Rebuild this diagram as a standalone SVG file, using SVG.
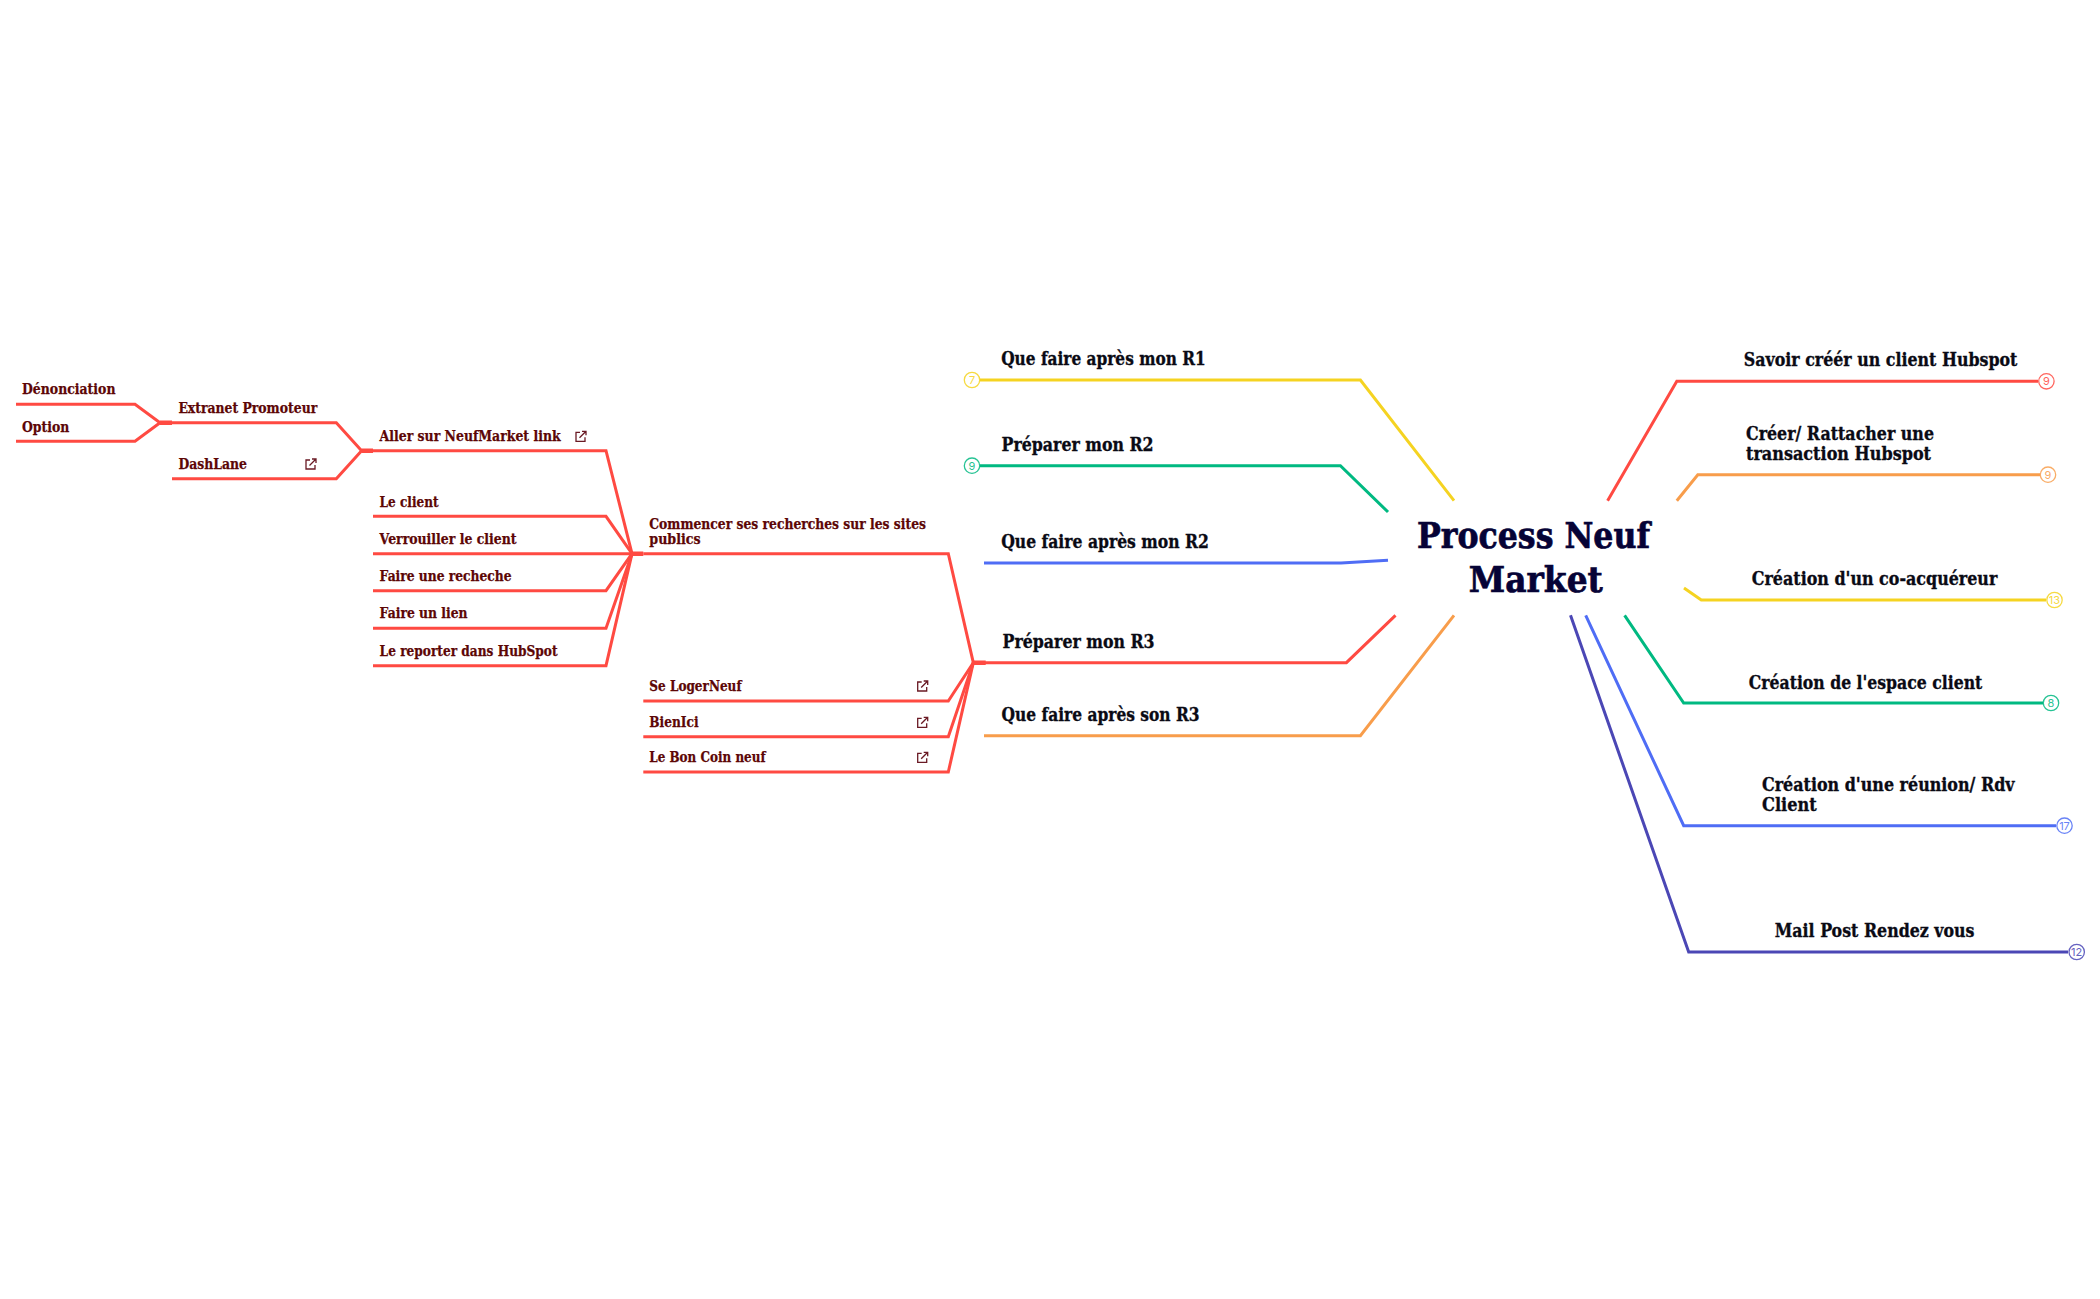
<svg xmlns="http://www.w3.org/2000/svg" width="2100" height="1299" viewBox="0 0 2100 1299">
<style>
text{font-family:"DejaVu Serif","Liberation Serif",serif;font-weight:700}
.root{font-size:35.5px;fill:#060336;stroke:#060336;stroke-width:.7}
.l1{font-size:18.5px;fill:#0a0a14;stroke:#0a0a14;stroke-width:.35}
.l2{font-size:14.2px;fill:#5c0606;stroke:#5c0606;stroke-width:.25}
.c{font-family:"Inter","Liberation Sans",sans-serif;font-weight:400;font-size:11px;text-anchor:middle;opacity:.85}
.ln{fill:none;stroke-width:3;stroke-linejoin:miter}
.st{stroke-width:4.4}
.red{stroke:#ff4a42}.yel{stroke:#f5d321}.grn{stroke:#00b981}.blu{stroke:#4f6df5}.org{stroke:#f89d4b}.ind{stroke:#4b47b5}
.b{fill:#fff;stroke-width:1.3;stroke-opacity:.85}
.ic{fill:none;stroke:#6a1a24;stroke-width:1.3}
</style>
<defs>
<g id="ext"><path class="ic" d="M-1,-4H-5V5H4V1"/><path class="ic" d="M-1.5,1.5L4.5,-4.5M1,-5H5V-1"/></g>
</defs>
<g id="connectors">
<path class="ln yel" d="M980,380H1360.4L1454,500.7"/>
<path class="ln grn" d="M980,465.7H1340.4L1388,512"/>
<path class="ln blu" d="M984,563H1341L1388,560.3"/>
<path class="ln red" d="M973.3,662.7H1346.4L1395.5,615.3"/>
<path class="ln org" d="M984,735.7H1360.4L1454,615.3"/>
<path class="ln red" d="M2038,381.3H1676.8L1607.6,500.7"/>
<path class="ln org" d="M2040,474.7H1697.8L1676.8,500.7"/>
<path class="ln yel" d="M2046,600H1701.3L1684,588"/>
<path class="ln grn" d="M2043,703H1683.7L1624.6,615.3"/>
<path class="ln blu" d="M2056,825.7H1683.7L1585.7,615.3"/>
<path class="ln ind" d="M2068,952H1688.7L1570.5,615.3"/>
<g id="sub-connectors">
<path class="ln red" d="M643.3,553.7H948.3L973.3,662.7"/>
<path class="ln red" d="M643.3,701H948.3L973.3,662.7"/>
<path class="ln red" d="M643.3,736.7H948.3L973.3,662.7"/>
<path class="ln red" d="M643.3,772H948.3L973.3,662.7"/>
<path class="ln red" d="M373,450.7H606L632,553.7"/>
<path class="ln red" d="M373,516.3H606L632,553.7"/>
<path class="ln red" d="M373,553.7H632"/>
<path class="ln red" d="M373,590.7H606L632,553.7"/>
<path class="ln red" d="M373,628.3H606L632,553.7"/>
<path class="ln red" d="M373,665.7H606L632,553.7"/>
<path class="ln red" d="M172,422.7H336.3L361.6,450.7H373"/>
<path class="ln red" d="M172,478.7H336.3L361.6,450.7"/>
<path class="ln red" d="M16,404.3H135L160,422.7H172"/>
<path class="ln red" d="M16,441.3H135L160,422.7"/>
<path class="ln red st" d="M632,553.7H643.3M973.3,662.7H985.7M361.6,450.7H373M160,422.7H172"/>
</g>
</g>
<g id="root"><text class="root" x="1417" y="548.3" textLength="233" lengthAdjust="spacingAndGlyphs">Process Neuf</text><text class="root" x="1468.8" y="591.7" textLength="134" lengthAdjust="spacingAndGlyphs">Market</text></g>
<g id="n-r1"><text class="l1" x="1001.2" y="365" textLength="204.5" lengthAdjust="spacingAndGlyphs">Que faire après mon R1</text><circle class="b yel" cx="972" cy="380" r="7.7"/><text class="c" x="972" y="384" fill="#f5d321">7</text></g>
<g id="n-r2"><text class="l1" x="1001.6" y="451" textLength="152" lengthAdjust="spacingAndGlyphs">Préparer mon R2</text><circle class="b grn" cx="972" cy="465.7" r="7.7"/><text class="c" x="972" y="469.6" fill="#00b981">9</text></g>
<g id="n-apr2"><text class="l1" x="1001.2" y="548" textLength="207.7" lengthAdjust="spacingAndGlyphs">Que faire après mon R2</text></g>
<g id="n-r3"><text class="l1" x="1002.6" y="647.7" textLength="152" lengthAdjust="spacingAndGlyphs">Préparer mon R3</text></g>
<g id="n-apr3"><text class="l1" x="1001.6" y="720.7" textLength="198" lengthAdjust="spacingAndGlyphs">Que faire après son R3</text></g>
<g id="n-savoir"><text class="l1" x="1743.8" y="366" textLength="273.6" lengthAdjust="spacingAndGlyphs">Savoir créér un client Hubspot</text><circle class="b red" cx="2046.4" cy="381.3" r="7.7"/><text class="c" x="2046.4" y="385.2" fill="#ff4a42">9</text></g>
<g id="n-creer"><text class="l1" x="1746" y="440" textLength="188" lengthAdjust="spacingAndGlyphs">Créer/ Rattacher une</text><text class="l1" x="1746" y="460" textLength="185" lengthAdjust="spacingAndGlyphs">transaction Hubspot</text><circle class="b org" cx="2048" cy="474.7" r="7.7"/><text class="c" x="2048" y="478.6" fill="#f89d4b">9</text></g>
<g id="n-coacq"><text class="l1" x="1751.8" y="585" textLength="245.5" lengthAdjust="spacingAndGlyphs">Création d'un co-acquéreur</text><circle class="b yel" cx="2054.5" cy="600" r="7.7"/><text class="c" x="2054.5" y="603.9" fill="#f5d321">13</text></g>
<g id="n-espace"><text class="l1" x="1748.8" y="689" textLength="233.5" lengthAdjust="spacingAndGlyphs">Création de l'espace client</text><circle class="b grn" cx="2051" cy="703" r="7.7"/><text class="c" x="2051" y="706.9" fill="#00b981">8</text></g>
<g id="n-reunion"><text class="l1" x="1762" y="791" textLength="252.6" lengthAdjust="spacingAndGlyphs">Création d'une réunion/ Rdv</text><text class="l1" x="1762" y="811" textLength="54.7" lengthAdjust="spacingAndGlyphs">Client</text><circle class="b blu" cx="2064.5" cy="825.7" r="7.7"/><text class="c" x="2064.5" y="829.6" fill="#4f6df5">17</text></g>
<g id="n-mail"><text class="l1" x="1774.8" y="936.7" textLength="199.7" lengthAdjust="spacingAndGlyphs">Mail Post Rendez vous</text><circle class="b ind" cx="2076.7" cy="952" r="7.7"/><text class="c" x="2076.7" y="955.9" fill="#4b47b5">12</text></g>
<g id="n-recherches"><text class="l2" x="649.3" y="529" textLength="276.7" lengthAdjust="spacingAndGlyphs">Commencer ses recherches sur les sites</text><text class="l2" x="649.3" y="544" textLength="51.3" lengthAdjust="spacingAndGlyphs">publics</text></g>
<g id="n-seloger"><text class="l2" x="649.3" y="691" textLength="92.3" lengthAdjust="spacingAndGlyphs">Se LogerNeuf</text><use href="#ext" x="922.7" y="686"/></g>
<g id="n-bienici"><text class="l2" x="649.3" y="727" textLength="49.3" lengthAdjust="spacingAndGlyphs">BienIci</text><use href="#ext" x="922.7" y="722.3"/></g>
<g id="n-boncoin"><text class="l2" x="649.3" y="762" textLength="116.3" lengthAdjust="spacingAndGlyphs">Le Bon Coin neuf</text><use href="#ext" x="922.7" y="757.3"/></g>
<g id="n-aller"><text class="l2" x="379.6" y="441.3" textLength="181" lengthAdjust="spacingAndGlyphs">Aller sur NeufMarket link</text><use href="#ext" x="581" y="436.3"/></g>
<g id="n-client"><text class="l2" x="379.6" y="506.7" textLength="59" lengthAdjust="spacingAndGlyphs">Le client</text></g>
<g id="n-verrou"><text class="l2" x="379.6" y="544.3" textLength="137" lengthAdjust="spacingAndGlyphs">Verrouiller le client</text></g>
<g id="n-recheche"><text class="l2" x="379.6" y="581.3" textLength="132" lengthAdjust="spacingAndGlyphs">Faire une recheche</text></g>
<g id="n-lien"><text class="l2" x="379.6" y="618.3" textLength="88" lengthAdjust="spacingAndGlyphs">Faire un lien</text></g>
<g id="n-reporter"><text class="l2" x="379.6" y="656.3" textLength="178" lengthAdjust="spacingAndGlyphs">Le reporter dans HubSpot</text></g>
<g id="n-extranet"><text class="l2" x="178.4" y="413" textLength="138.8" lengthAdjust="spacingAndGlyphs">Extranet Promoteur</text></g>
<g id="n-dashlane"><text class="l2" x="178.4" y="469.3" textLength="68.6" lengthAdjust="spacingAndGlyphs">DashLane</text><use href="#ext" x="311" y="464"/></g>
<g id="n-denon"><text class="l2" x="22" y="394" textLength="93.5" lengthAdjust="spacingAndGlyphs">Dénonciation</text></g>
<g id="n-option"><text class="l2" x="22" y="432" textLength="47.3" lengthAdjust="spacingAndGlyphs">Option</text></g>
</svg>
